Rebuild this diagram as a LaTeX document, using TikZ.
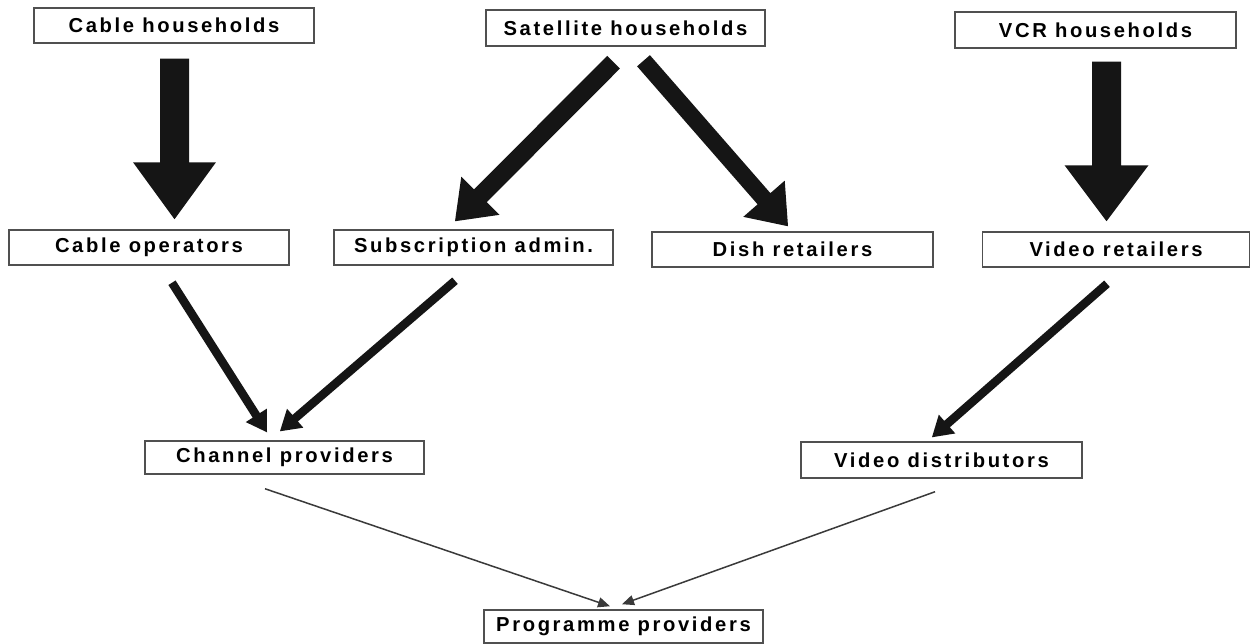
\documentclass[tikz,border=0pt]{standalone}
\usepackage{fontspec}
\newfontfamily\boxfont{Liberation Sans}[LetterSpace=13]
\usetikzlibrary{calc,arrows.meta}
\definecolor{boxgray}{HTML}{505050}
\definecolor{arrowblack}{HTML}{151515}
\definecolor{thingray}{HTML}{3A3A3A}
\newcommand\blockarr[6]{%
  \coordinate (ba-h) at ($(#2)!#5!(#1)$);
  \fill[#6] ($(#1)!#3!90:(#2)$) -- ($(ba-h)!#3!90:(#2)$) -- ($(ba-h)!#4!90:(#2)$) -- (#2)
    -- ($(ba-h)!#4!-90:(#2)$) -- ($(ba-h)!#3!-90:(#2)$) -- ($(#1)!#3!-90:(#2)$) -- cycle;
}
\begin{document}
\begin{tikzpicture}[x=0.02cm,y=-0.02cm,
  box/.style={draw=boxgray, line width=0.03cm, fill=white, inner sep=0pt,
    minimum width=5.6cm, minimum height=0.7cm,
    font={\boxfont\bfseries\fontsize{11.5}{13}\selectfont}, text=black},
  bigfill/.style={fill=arrowblack},
  thinarrow/.style={draw=thingray, line width=0.03cm, -{Triangle[length=0.24cm,width=0.2cm]}}]
\fill[white] (0,0) rectangle (1256,644);
\useasboundingbox (0,0) rectangle (1256,644);

% nodes
\node[box] (cableH) at (174,25.5) {Cable households};
\node[box, minimum width=5.58cm, minimum height=0.72cm] (satH) at (625.5,28) {Satellite households};
\node[box, minimum width=5.62cm, minimum height=0.72cm] (vcrH) at (1095.5,30) {VCR households};
\node[box] (cableOp) at (149,247.5) {Cable operators};
\node[box, minimum width=5.58cm] (subAdm) at (473.5,247.5) {Subscription admin.};
\node[box, minimum width=5.62cm] (dish) at (792.5,249.5) {Dish retailers};
\node[box, minimum width=5.34cm] (vidRet) at (1116,249.5) {Video retailers};
\node[box, minimum width=5.58cm, minimum height=0.66cm] (chanP) at (284.5,457.5) {Channel providers};
\node[box, minimum width=5.62cm, minimum height=0.72cm] (vidDist) at (941.5,460) {Video distributors};
\node[box, minimum width=5.58cm, minimum height=0.66cm] (progP) at (623.5,626.5) {Programme providers};

% arrow end points
\coordinate (a1s) at ($(cableH.south)+(0.5,15)$);
\coordinate (a1t) at ($(cableH.south |- cableOp.north)+(0.5,-10)$);
\coordinate (a2s) at ($(vcrH.south)+(11,13)$);
\coordinate (a2t) at ($(vidRet.north)+(-9.5,-10)$);
\coordinate (a3s) at ($(satH.south)+(-12,15.5)$);
\coordinate (a3t) at ($(subAdm.north)+(-18.5,-8)$);
\coordinate (a4s) at ($(satH.south)+(18,14)$);
\coordinate (a4t) at ($(dish.north)+(-4.5,-5)$);
\coordinate (a5s) at ($(cableOp.south)+(23,17)$);
\coordinate (a5t) at ($(chanP.north)+(-17.5,-8)$);
\coordinate (a6s) at ($(subAdm.south)+(-18.5,15)$);
\coordinate (a6t) at ($(chanP.north)+(-4.5,-9)$);
\coordinate (a7s) at ($(vidRet.south)+(-9,16)$);
\coordinate (a7t) at ($(vidDist.north)+(-9.5,-4)$);
\coordinate (a8s) at ($(chanP.south)+(-19.5,14)$);
\coordinate (a8t) at ($(progP.north)+(-13.5,-3)$);
\coordinate (a9s) at ($(vidDist.south)+(-6.5,13)$);
\coordinate (a9t) at ($(progP.north)+(-1.5,-5)$);

% big vertical arrows
\blockarr{a1s}{a1t}{0.29cm}{0.83cm}{1.14cm}{bigfill}
\blockarr{a2s}{a2t}{0.29cm}{0.84cm}{1.12cm}{bigfill}
% diagonal satellite arrows
\blockarr{a3s}{a3t}{0.18cm}{0.54cm}{0.72cm}{bigfill}
\blockarr{a4s}{a4t}{0.17cm}{0.55cm}{0.73cm}{bigfill}
% medium arrows
\blockarr{a5s}{a5t}{0.085cm}{0.25cm}{0.4cm}{bigfill}
\blockarr{a6s}{a6t}{0.085cm}{0.25cm}{0.4cm}{bigfill}
\blockarr{a7s}{a7t}{0.085cm}{0.25cm}{0.4cm}{bigfill}
% thin arrows
\draw[thinarrow] (a8s) -- (a8t);
\draw[thinarrow] (a9s) -- (a9t);
\end{tikzpicture}
\end{document}
